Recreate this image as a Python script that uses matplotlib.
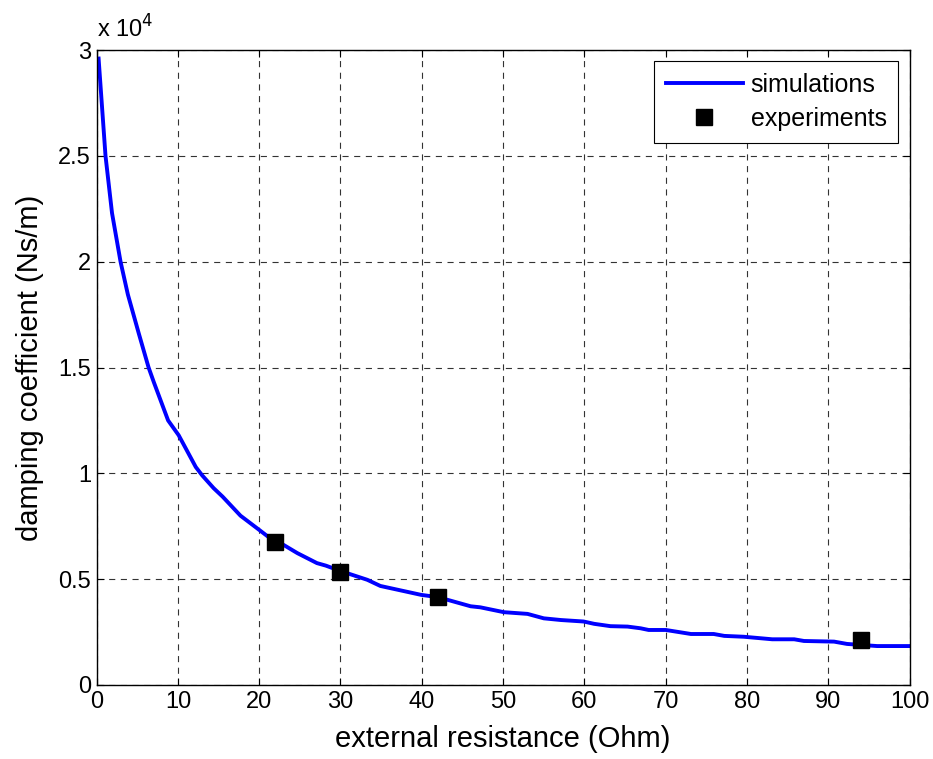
import numpy as np
import matplotlib.pyplot as plt

plt.rcParams['font.family'] = ['Liberation Sans', 'DejaVu Sans']

# simulated damping curve (Ns/m, in units of 1e4)
sim_resistance = [0.25, 1.1, 1.9, 2.95, 3.85, 5.2, 6.4, 7.05, 8.8, 10.1,
                  12.2, 13.0, 14.4, 15.5, 17.7, 20.0, 21.8, 23.0, 24.7, 27.1,
                  28.2, 29.9, 33.3, 34.9, 39.9, 42.0, 46.0, 47.2, 50.1, 53.0,
                  55.0, 57.1, 59.9, 61.2, 63.2, 65.3, 66.9, 67.9, 70.0, 73.1,
                  75.9, 77.2, 79.6, 83.1, 85.8, 87.0, 90.7, 92.3, 96.0, 100.0]
sim_damping = [2.96, 2.50, 2.23, 2.00, 1.845, 1.66, 1.50, 1.43, 1.25, 1.18,
               1.03, 0.99, 0.93, 0.89, 0.80, 0.733, 0.68, 0.662, 0.623, 0.576,
               0.564, 0.54, 0.497, 0.468, 0.426, 0.415, 0.372, 0.367, 0.344, 0.336,
               0.315, 0.307, 0.300, 0.289, 0.278, 0.276, 0.268, 0.260, 0.260, 0.241,
               0.241, 0.232, 0.228, 0.216, 0.216, 0.208, 0.205, 0.194, 0.184, 0.184]

# measured points
exp_resistance = [22, 30, 42, 94]
exp_damping = [0.675, 0.535, 0.415, 0.213]

fig = plt.figure(figsize=(9.33, 7.59), dpi=100)
ax = fig.add_axes([0.1035, 0.0975, 0.8715, 0.8365])

ax.plot(sim_resistance, sim_damping, color='#0000ff', lw=2.8, label='simulations')
ax.plot(exp_resistance, exp_damping, 's', color='black', ms=11.5,
        label='experiments')

ax.set_xlim(0, 100)
ax.set_ylim(0, 3)
ax.set_xticks(np.arange(0, 101, 10))
ax.set_yticks(np.arange(0, 3.01, 0.5))
ax.set_yticklabels(['0', '0.5', '1', '1.5', '2', '2.5', '3'])

ax.grid(True, color='0.2', lw=0.8, linestyle=(0, (5.5, 5)))
ax.tick_params(direction='in', top=True, right=True, length=5, width=0.8,
               labelsize=17, pad=4)
for s in ax.spines.values():
    s.set_linewidth(1.0)

ax.set_xlabel('external resistance (Ohm)', fontsize=21, labelpad=9)
ax.set_ylabel('damping coefficient (Ns/m)', fontsize=21, labelpad=10)
ax.text(0.0, 1.012, r'x 10$^{4}$', transform=ax.transAxes, fontsize=17,
        ha='left', va='bottom')

leg = ax.legend(loc='upper right', fontsize=18, fancybox=False,
                edgecolor='black', framealpha=1, handlelength=3.1,
                handletextpad=0.3, borderaxespad=0.45, labelspacing=0.4,
                borderpad=0.47)
leg.get_frame().set_linewidth(0.8)

fig.savefig('out.png', dpi=100)
